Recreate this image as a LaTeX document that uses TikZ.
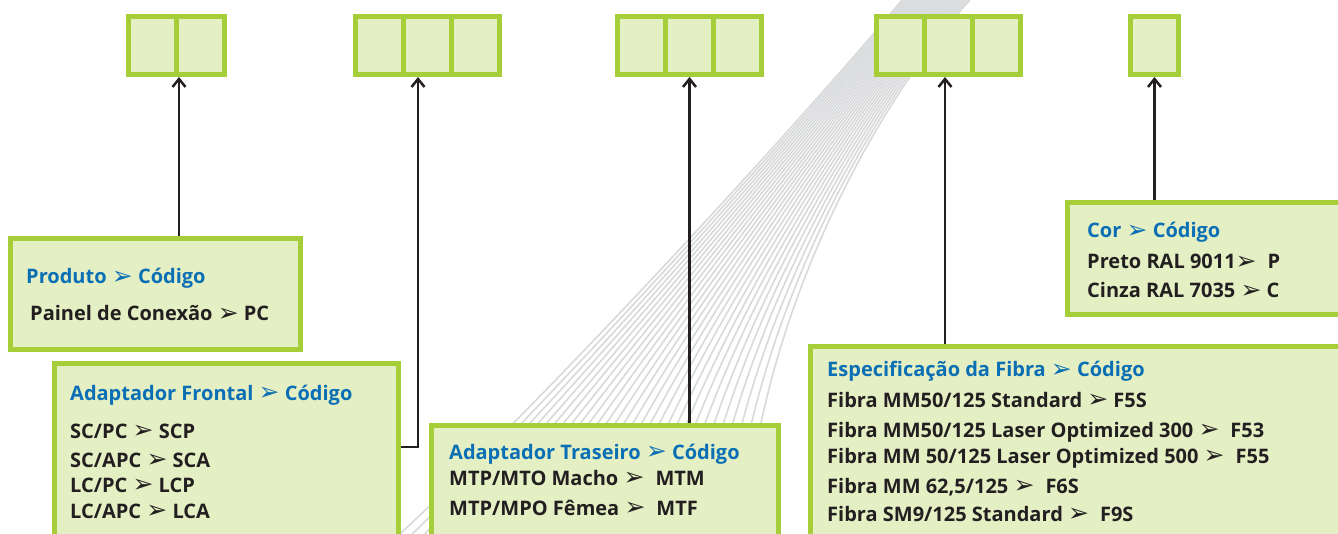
\documentclass[tikz,border=0pt]{standalone}
\usepackage{fontspec}
\setmainfont{Open Sans}
\newfontfamily\dvs{DejaVu Sans}
\usetikzlibrary{arrows.meta}
\definecolor{lime}{HTML}{A6CE39}
\definecolor{limefill}{HTML}{E5EFC4}
\definecolor{titleblue}{HTML}{0A6FB4}
\definecolor{ink}{HTML}{231F20}
\definecolor{fiber}{HTML}{D8D9DB}
\newcommand{\ah}{{\dvs\fontsize{25}{25}\selectfont\raisebox{-0.5pt}{\char"27A2}}}
\newcommand{\wsp}{\hspace{0.55em}}
\tikzset{
  cell/.style={draw=lime, fill=limefill, line width=5pt, minimum width=48pt, minimum height=58pt, inner sep=0pt},
  infobox/.style={draw=lime, fill=limefill, line width=5pt, inner sep=0pt},
  fiberline/.style={draw=fiber, line width=1.6pt},
  conn/.style={draw=ink, line width=2.5pt, -{Straight Barb[length=8pt,width=13pt]}},
  txt/.style={anchor=base west, inner sep=0pt, font=\bfseries\fontsize{20}{24}\selectfont, text=ink},
  ttl/.style={txt, text=titleblue}
}
\begin{document}
\begin{tikzpicture}[x=1pt,y=-1pt]
\useasboundingbox (0,0) rectangle (1338,534);
\clip (0,0) rectangle (1338,534);
\fill[white] (0,0) rectangle (1338,534);
% fibre fan
\foreach \i in {0,...,28} {
  \pgfmathsetmacro\tt{\i/28}
  \pgfmathsetmacro\ax{902+68*\tt}
  \pgfmathsetmacro\bx{815+55*\tt}
  \pgfmathsetmacro\by{105+5*\tt}
  \pgfmathsetmacro\cx{565+195*\tt}
  \pgfmathsetmacro\cy{380-60*\tt}
  \pgfmathsetmacro\dx{400+345*\tt}
  \draw[fiberline] (\ax,0) .. controls (\bx,\by) and (\cx,\cy) .. (\dx,534);
}
% top code cells
\node[cell] (c1a) at (152.5,45.5) {};
\node[cell] (c1b) at (200.5,45.5) {};
\node[cell] (c2a) at (379.5,45.5) {};
\node[cell] (c2b) at (427.5,45.5) {};
\node[cell] (c2c) at (475.5,45.5) {};
\node[cell] (c3a) at (641.5,45.5) {};
\node[cell] (c3b) at (689.5,45.5) {};
\node[cell] (c3c) at (737.5,45.5) {};
\node[cell] (c4a) at (900.5,45.5) {};
\node[cell] (c4b) at (948.5,45.5) {};
\node[cell] (c4c) at (996.5,45.5) {};
\node[cell] (c5a) at (1154.5,45.5) {};
% information boxes
\node[infobox, minimum width=290pt, minimum height=111pt] (produto) at (155.5,294) {};
\node[infobox, minimum width=344pt, minimum height=181.5pt] (frontal) at (226.5,454.25) {};
\node[infobox, minimum width=347pt, minimum height=119.5pt] (traseiro) at (605,485.25) {};
\node[infobox, minimum width=277.5pt, minimum height=112pt] (cor) at (1206.25,258.5) {};
\node[infobox, minimum width=534.5pt, minimum height=198.5pt] (fibra) at (1077.75,445.75) {};
% connectors
\draw[conn] (produto.north -| c1a.south east) -- (c1a.south east);
\draw[conn] ([yshift=7.25pt]frontal.east) -| ([xshift=-9.5pt]c2b.south);
\draw[conn] (traseiro.north -| c3b.south) -- (c3b.south);
\draw[conn] ([xshift=-3.5pt]fibra.north -| c4b.south) -- ([xshift=-3.5pt]c4b.south);
\draw[conn] (cor.north -| c5a.south) -- (c5a.south);
% texts
\node[ttl] (p0) at (26,284) {Produto \ah{} Código};
\node[txt] (p1) at (30,321) {Painel de Conexão \ah{} PC};
\node[ttl] (f0) at (70,400) {Adaptador Frontal \ah{} Código};
\node[txt] (f1) at (70,438) {SC/PC \ah{} SCP};
\node[txt] (f2) at (70,467) {SC/APC \ah{} SCA};
\node[txt] (f3) at (70,492) {LC/PC \ah{} LCP};
\node[txt] (f4) at (70,518) {LC/APC \ah{} LCA};
\node[ttl] (r0) at (449,459) {Adaptador Traseiro \ah{} Código};
\node[txt] (r1) at (449,485) {MTP/MTO Macho \ah\wsp MTM};
\node[txt] (r2) at (449,515) {MTP/MPO Fêmea \ah\wsp MTF};
\node[ttl] (k0) at (1087,238) {Cor \ah{} Código};
\node[txt] (k1) at (1087,269) {Preto RAL 9011\ah\wsp P};
\node[txt] (k2) at (1087,298) {Cinza RAL 7035 \ah{} C};
\node[ttl] (e0) at (827,377) {Especificação da Fibra \ah{} Código};
\node[txt] (e1) at (827,407) {Fibra MM50/125 Standard \ah{} F5S};
\node[txt] (e2) at (827,437) {Fibra MM50/125 Laser Optimized 300 \ah\wsp F53};
\node[txt] (e3) at (827,463) {Fibra MM 50/125 Laser Optimized 500 \ah\wsp F55};
\node[txt] (e4) at (827,493) {Fibra MM 62,5/125 \ah\wsp F6S};
\node[txt] (e5) at (827,521) {Fibra SM9/125 Standard \ah\wsp F9S};
\end{tikzpicture}
\end{document}
